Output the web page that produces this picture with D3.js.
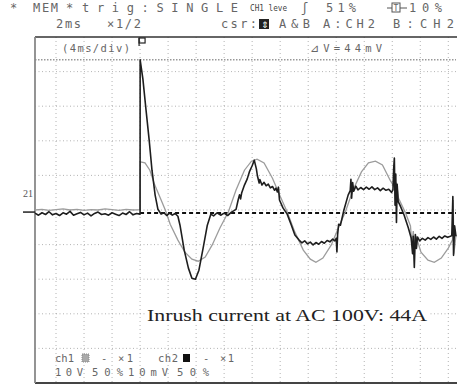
<!DOCTYPE html>
<html>
<head>
<meta charset="utf-8">
<script src="https://cdn.jsdelivr.net/npm/d3@7"></script>
<style>
  body { margin: 0; background: #fff; }
  svg { display: block; }
  .lcd { font-family: "DejaVu Sans Mono", monospace; fill: #666; }
</style>
</head>
<body>
<div id="chart"></div>
<script>
// time axis in ms (4 ms/div), trigger at t = 0
const timeDomain = [-15, 45.1];
const timeGrid = d3.range(-12, 45, 4);
// vertical axis: 10 units/div (ch2 10 mV/div, ch1 10 V/div)
const valueDomain = [-49.4, 50.6];
const valueGrid = d3.range(1, 10).map(k => 50.6 - 10 * k);
const cursorMv = 44;

// ch1 (grey) - mains voltage, switched on at its crest
const ch1Trace = [
  [-15, 0.6], [-14, 0.8], [-13, 0.5], [-12, 0.7], [-11, 0.9], [-10, 0.6], [-9, 0.8], [-8, 0.5],
  [-7, 0.7], [-6, 0.6], [-5, 0.9], [-4, 0.7], [-3, 0.5], [-2, 0.8], [-1, 0.6], [0, 0.7],
  [0.01, 14.5], [0.7, 14.2], [1.4, 12.1], [2.1, 7.8], [2.9, 4.0], [3.6, 0.6], [4.3, -3.5],
  [5.4, -8.1], [6.4, -11.6], [7.4, -13.6], [8.3, -14.2], [9.3, -13.0], [10.3, -9.5],
  [11.4, -4.6], [12.6, 0], [13.7, 6.4], [14.9, 12.1], [15.9, 14.7], [16.7, 15.3],
  [17.7, 14.2], [18.9, 9.8], [20.0, 4.6], [21.0, 0], [22.1, -5.8], [23.3, -11.0],
  [24.3, -13.6], [25.1, -14.5], [26.1, -13.3], [27.3, -9.5], [28.3, -4.6], [29.3, 0],
  [30.4, 6.4], [31.6, 11.6], [32.6, 14.2], [33.6, 14.7], [34.6, 13.6], [35.7, 9.2],
  [36.2, 7.5], [36.3, 11.5], [36.45, 4.5], [36.6, 8.5], [36.9, 4.0], [37.9, -0.3],
  [38.6, -4.0], [38.8, -9.5], [39.0, -5.5], [39.2, -10.0], [39.4, -7.0], [40.1, -11.6],
  [41.1, -13.9], [42.0, -14.5], [43.0, -13.3], [44.0, -10.4], [44.6, -8.0], [44.7, 3.5],
  [44.8, -12.0], [45.1, -6.6]
];

// ch2 (black) - inrush current, peak 44 mV
const ch2Trace = [
  [-15, -0.3], [-14.5, -0.9], [-14, -0.2], [-13.5, -0.7], [-13, 0.1], [-12.5, -0.8],
  [-12, -0.4], [-11.5, -1.0], [-11, -0.2], [-10.5, -0.6], [-10, 0.2], [-9.5, -0.9],
  [-9, -0.5], [-8.5, -0.1], [-8, -0.8], [-7.5, -0.3], [-7, -1.1], [-6.5, -0.4],
  [-6, 0.0], [-5.5, -0.7], [-5, -0.5], [-4.5, -0.9], [-4, -0.2], [-3.5, -0.6],
  [-3, -1.0], [-2.5, -0.3], [-2, -0.7], [-1.5, 0.1], [-1, -0.8], [-0.5, -0.4], [0, -0.6],
  [0.01, 44], [0.4, 38.5], [0.85, 29.5], [1.3, 20.8], [1.7, 12.1], [2.15, 4.9], [2.55, 0.8],
  [3.0, -0.6], [3.4, -0.2], [3.8, -1.0], [4.2, -0.3], [4.6, -0.9], [5.0, -0.4], [5.4, -1.2],
  [5.7, -3.8], [6.3, -11], [6.9, -16.2], [7.4, -19.1], [7.9, -19.4], [8.4, -16.8],
  [9.0, -10.4], [9.6, -3.8], [10.1, -0.6], [10.5, -1.1], [11.0, -0.2], [11.5, -0.9],
  [12.0, -0.3], [12.5, -1.0], [13.0, -0.1], [13.4, 0.4], [13.7, 0.8],
  [14.0, 3.5], [14.2, 5.0], [14.35, 3.8], [14.5, 5.5], [14.9, 7.8], [15.3, 9.6], [15.6, 11.6],
  [16.0, 13.4], [16.3, 15.0], [16.6, 12.5], [16.75, 10.5], [17.0, 8.4], [17.1, 9.4],
  [17.4, 7.8], [17.7, 8.6], [18.0, 7.6], [18.3, 8.1], [18.6, 7.0], [18.9, 7.4], [19.2, 6.3],
  [19.4, 6.9], [19.6, 5.8], [19.75, 7.2], [19.9, 3.5], [20.4, 1.2], [21.0, -0.6],
  [21.6, -3.8], [22.1, -6.6], [22.7, -8.1], [23.1, -8.9], [23.5, -8.3], [23.9, -9.2],
  [24.3, -8.7], [24.7, -9.5], [25.1, -8.8], [25.5, -9.3], [25.9, -8.5], [26.3, -9.0],
  [26.7, -8.2], [27.1, -8.6], [27.5, -7.8], [27.8, -8.3], [28.0, -7.6], [28.1, -11.5],
  [28.2, -6.5], [28.35, -3.5], [28.6, -3.8], [29.1, 0.6], [29.7, 4.9], [30.0, 6.2],
  [30.1, 9.5], [30.2, 4.0], [30.35, 8.5], [30.5, 6.0], [30.8, 7.5], [31.1, 6.4], [31.5, 7.1],
  [31.9, 6.5], [32.3, 7.2], [32.7, 6.6], [33.1, 7.3], [33.5, 6.5], [33.9, 7.0], [34.3, 6.2],
  [34.7, 6.9], [35.1, 6.3], [35.5, 6.6], [35.9, 5.7], [36.1, 6.4], [36.2, 12.5], [36.3, 15.6],
  [36.4, 2.0], [36.5, 11.0], [36.6, -3.0], [36.7, 8.0], [36.85, 3.0], [37.1, 2.0],
  [37.7, -0.9], [38.3, -4.6], [38.7, -7.5], [38.9, -12.0], [39.0, -7.0], [39.15, -16.0],
  [39.3, -6.5], [39.45, -10.5], [39.6, -7.2], [39.9, -8.3], [40.3, -7.6], [40.7, -8.1],
  [41.1, -7.4], [41.5, -7.9], [41.9, -7.2], [42.3, -7.8], [42.7, -7.0], [43.1, -7.6],
  [43.5, -6.9], [43.9, -7.3], [44.3, -7.0], [44.5, -6.8], [44.65, 4.5], [44.75, -12.5],
  [44.9, -4.0], [45.1, -7.0]
];

// on-screen texts of the scope
const headerText = [
  ["*", 10, 19, 12], ["MEM", 33, 58, 12], ["*", 66, 75, 12], ["trig:SINGLE", 82, 238, 12],
  ["51%", 326, 356, 12], ["10%", 409, 442, 12],
  ["2ms", 56, 81, 28], ["×1/2", 107, 141, 28], ["csr:", 221, 257, 28], ["A&B", 279, 310, 28],
  ["A:CH2", 323, 375, 28], ["B:CH2", 393, 454, 28]
];
const footerText = [
  ["ch1", 55, 74, 362], ["-", 101, 107, 362], ["×1", 118, 133, 362],
  ["ch2", 158, 178, 362], ["-", 203, 209, 362], ["×1", 220, 234, 362],
  ["10V", 55, 83, 376], ["50%", 92, 123, 376], ["10mV", 128, 168, 376], ["50%", 177, 209, 376]
];
const caption = "Inrush current at AC 100V: 44A";

const width = 457, height = 390;
const plotL = 35, plotR = 456, plotT = 37, plotB = 383;

const svg = d3.select("#chart").append("svg")
  .attr("width", width).attr("height", height);

const x = d3.scaleLinear().domain(timeDomain).range([plotL, plotR]);
const y = d3.scaleLinear().domain(valueDomain).range([plotB, plotT]);

// grid
svg.append("g").selectAll("line").data(timeGrid).join("line")
  .attr("x1", d => x(d)).attr("x2", d => x(d))
  .attr("y1", plotT).attr("y2", plotB)
  .attr("stroke", "#a0a0a0").attr("stroke-width", 0.8)
  .attr("stroke-dasharray", "1,3");

svg.append("g").selectAll("line").data(valueGrid).join("line")
  .attr("x1", plotL).attr("x2", plotR)
  .attr("y1", d => y(d)).attr("y2", d => y(d))
  .attr("stroke", "#a0a0a0").attr("stroke-width", 0.8)
  .attr("stroke-dasharray", "1,2.5");

// cursor line at peak
svg.append("line")
  .attr("x1", plotL).attr("x2", plotR)
  .attr("y1", y(cursorMv)).attr("y2", y(cursorMv))
  .attr("stroke", "#666").attr("stroke-width", 1)
  .attr("stroke-dasharray", "1.5,1.5");

// frame
svg.append("line").attr("x1", plotL).attr("x2", width).attr("y1", plotT).attr("y2", plotT)
  .attr("stroke", "#333").attr("stroke-width", 1.5);
svg.append("line").attr("x1", plotL).attr("x2", width).attr("y1", plotB).attr("y2", plotB)
  .attr("stroke", "#444").attr("stroke-width", 2);
svg.append("line").attr("x1", plotL).attr("x2", plotL).attr("y1", plotT).attr("y2", plotB)
  .attr("stroke", "#888").attr("stroke-width", 1.8);

// caption with white backing
const cap = svg.append("g");
cap.append("rect").attr("x", 145).attr("y", 303).attr("width", 284).attr("height", 22).attr("fill", "#fff");
cap.append("text").attr("x", 147).attr("y", 321)
  .attr("textLength", 280).attr("lengthAdjust", "spacingAndGlyphs")
  .style("font-family", "'Liberation Serif', 'DejaVu Serif', serif")
  .style("font-size", "17px").style("fill", "#222")
  .text(caption);

// zero level dashed line after trigger
svg.append("line")
  .attr("x1", x(0)).attr("x2", plotR)
  .attr("y1", y(0) + 1).attr("y2", y(0) + 1)
  .attr("stroke", "#111").attr("stroke-width", 2)
  .attr("stroke-dasharray", "4,3");

const line = d3.line().x(d => x(d[0])).y(d => y(d[1]));

svg.append("path").datum(ch1Trace).attr("d", line)
  .attr("fill", "none").attr("stroke", "#9c9c9c").attr("stroke-width", 1.3);

svg.append("path").datum(ch2Trace).attr("d", line)
  .attr("fill", "none").attr("stroke", "#1e1e1e").attr("stroke-width", 1.6)
  .attr("stroke-linejoin", "round");

// ground marker and channel label
svg.append("line").attr("x1", 23).attr("x2", plotL).attr("y1", y(0)).attr("y2", y(0))
  .attr("stroke", "#222").attr("stroke-width", 1.5);
svg.append("text").attr("x", 23).attr("y", 197)
  .style("font-family", "'Liberation Serif', serif").style("font-size", "10px").style("fill", "#555")
  .text("21");

// trigger marker
const tx = x(0);
svg.append("rect").attr("x", tx - 1).attr("y", 38).attr("width", 6).attr("height", 5)
  .attr("fill", "none").attr("stroke", "#222").attr("stroke-width", 1.2);
svg.append("line").attr("x1", tx - 1).attr("x2", tx - 1).attr("y1", 38).attr("y2", 46)
  .attr("stroke", "#222").attr("stroke-width", 1.2);

// LCD texts
function lcd(rows, size) {
  svg.append("g").selectAll("text").data(rows).join("text")
    .attr("class", "lcd")
    .attr("x", d => d[1]).attr("y", d => d[3])
    .attr("textLength", d => d[2] - d[1])
    .attr("lengthAdjust", "spacing")
    .style("font-size", size + "px")
    .text(d => d[0]);
}
lcd(headerText, 12);
lcd(footerText, 10.5);

svg.append("text").attr("class", "lcd").attr("x", 250).attr("y", 11)
  .attr("textLength", 37).attr("lengthAdjust", "spacingAndGlyphs")
  .style("font-size", "8px").style("fill", "#444").text("CH1 leve");
svg.append("text").attr("class", "lcd").attr("x", 301).attr("y", 12)
  .style("font-size", "12px").text("ʃ");
svg.append("text").attr("class", "lcd").attr("x", 62).attr("y", 52)
  .attr("textLength", 68).attr("lengthAdjust", "spacing")
  .style("font-size", "10.5px").text("(4ms/div)");
svg.append("text").attr("class", "lcd").attr("x", 310).attr("y", 52)
  .attr("textLength", 72).attr("lengthAdjust", "spacing")
  .style("font-size", "10.5px").text("⊿V=44mV");

// trigger-position icon -T+
const ti = svg.append("g").attr("stroke", "#555").attr("stroke-width", 1);
ti.append("line").attr("x1", 387).attr("x2", 392).attr("y1", 8).attr("y2", 8);
ti.append("rect").attr("x", 392).attr("y", 3).attr("width", 8).attr("height", 9).attr("fill", "none");
ti.append("line").attr("x1", 400).attr("x2", 407).attr("y1", 8).attr("y2", 8);
svg.append("text").attr("class", "lcd").attr("x", 393.5).attr("y", 11)
  .style("font-size", "8px").text("T");

// cursor icon box
svg.append("rect").attr("x", 259).attr("y", 19).attr("width", 10).attr("height", 10).attr("fill", "#222");
svg.append("text").attr("x", 261).attr("y", 27.5)
  .style("font-family", "DejaVu Sans").style("font-size", "9px").style("fill", "#fff").text("⇕");

// channel swatches in footer
svg.append("rect").attr("x", 82).attr("y", 354).attr("width", 7).attr("height", 8)
  .attr("fill", "#aaa").attr("stroke", "#888").attr("stroke-dasharray", "1,1");
svg.append("rect").attr("x", 183).attr("y", 354).attr("width", 7).attr("height", 8).attr("fill", "#111");
</script>
</body>
</html>
